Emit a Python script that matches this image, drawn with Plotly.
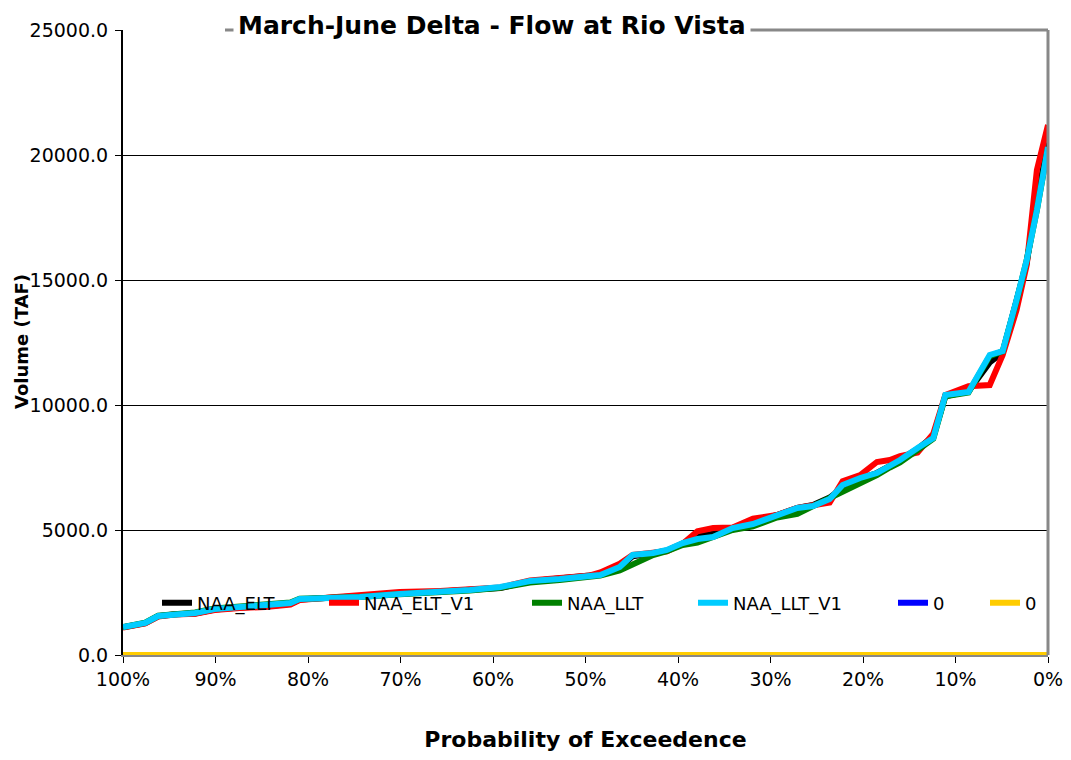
import plotly.graph_objects as go

# Probability of exceedance (%)
prob = [100.0, 97.6, 96.2, 94.4, 92.2, 90.1, 87.4, 84.6, 81.9, 80.9, 77.6, 74.4,
        70.1, 65.7, 62.5, 59.2, 56.0, 52.8, 49.5, 48.4, 46.3, 44.9, 42.7, 41.2,
        39.5, 37.9, 36.2, 34.1, 31.9, 29.3, 27.1, 25.4, 23.6, 22.2, 20.3, 18.5,
        17.1, 16.0, 14.1, 12.4, 11.1, 8.6, 6.3, 4.9, 3.4, 2.3, 1.2, 0.0]

naa_elt = [1110, 1270, 1550, 1630, 1660, 1820, 1900, 1940, 2050, 2220, 2290, 2360,
           2470, 2530, 2600, 2680, 2950, 3040, 3160, 3220, 3500, 3950, 4070, 4180,
           4460, 4750, 4850, 5080, 5260, 5600, 5880, 6000, 6300, 6700, 7050, 7280,
           7560, 7800, 8250, 8750, 10350, 10550, 11700, 12100, 14100, 15700, 18200, 20500]

naa_elt_v1 = [1100, 1260, 1540, 1620, 1650, 1800, 1880, 1920, 2020, 2200, 2300, 2400,
              2520, 2560, 2620, 2700, 2980, 3080, 3180, 3300, 3650, 4000, 4100, 4150,
              4450, 4950, 5080, 5100, 5450, 5600, 5880, 6000, 6100, 6950, 7200, 7720,
              7800, 7950, 8100, 8850, 10400, 10750, 10800, 12000, 13800, 15600, 19400, 21200]

naa_llt = [1120, 1290, 1570, 1650, 1700, 1860, 1940, 1980, 2100, 2250, 2280, 2320,
           2430, 2510, 2580, 2690, 2900, 3000, 3140, 3180, 3380, 3600, 4000, 4150,
           4400, 4500, 4700, 5000, 5150, 5500, 5650, 5950, 6280, 6500, 6900, 7200,
           7500, 7700, 8200, 8650, 10350, 10500, 11950, 12150, 14150, 15800, 17800, 20300]

naa_llt_v1 = [1120, 1280, 1560, 1640, 1680, 1840, 1920, 1960, 2080, 2240, 2280, 2320,
              2440, 2520, 2600, 2720, 2960, 3040, 3160, 3200, 3520, 4000, 4080, 4200,
              4480, 4640, 4720, 5080, 5240, 5600, 5880, 5960, 6240, 6800, 7080, 7280,
              7560, 7800, 8280, 8680, 10400, 10520, 12000, 12160, 14200, 15800, 17800, 20320]

zero_a = [0] * len(prob)
zero_b = [0] * len(prob)

y_ticks = [0, 5000, 10000, 15000, 20000, 25000]
x_ticks = [100, 90, 80, 70, 60, 50, 40, 30, 20, 10, 0]
x_tick_labels = ["100%", "90%", "80%", "70%", "60%", "50%", "40%", "30%", "20%", "10%", "0%"]

series = [
    ("NAA_ELT", naa_elt, "#000000"),
    ("NAA_ELT_V1", naa_elt_v1, "#ff0000"),
    ("NAA_LLT", naa_llt, "#008000"),
    ("NAA_LLT_V1", naa_llt_v1, "#00ccff"),
    ("0", zero_a, "#0000ff"),
    ("0", zero_b, "#ffcc00"),
]

# page has an 8px body margin; figure sized to fit inside the viewport
W, H = 1063, 752
L, R, T, B = 115, 23, 22, 105
plot_w = W - L - R
plot_h = H - T - B

font_family = "DejaVu Sans, Liberation Sans, Arial, sans-serif"

# text-start pixel (page coords) of each legend entry in the reference
legend_text_px = [197, 364, 567, 733, 933, 1025]
legend_names = ["legend", "legend2", "legend3", "legend4", "legend5", "legend6"]

fig = go.Figure()
for (name, vals, color), lg in zip(series, legend_names):
    fig.add_trace(go.Scatter(
        x=prob, y=vals, mode="lines", name=name,
        line=dict(color=color, width=6),
        cliponaxis=False, legend=lg,
    ))

legend_layout = {}
for lg, tx in zip(legend_names, legend_text_px):
    item_start = tx - 8 - 40
    legend_layout[lg] = dict(
        x=(item_start - L) / plot_w, y=(655 - 603) / 625,
        xanchor="left", yanchor="middle", orientation="h",
        bgcolor="rgba(0,0,0,0)", borderwidth=0,
        font=dict(size=18, family=font_family, color="black"),
    )

fig.update_layout(
    width=W, height=H,
    margin=dict(l=L, r=R, t=T, b=B, autoexpand=False),
    paper_bgcolor="white", plot_bgcolor="white",
    font=dict(family=font_family, size=19, color="black"),
    showlegend=True,
    xaxis=dict(
        range=[100, 0], tickvals=x_ticks, ticktext=x_tick_labels,
        showgrid=False, zeroline=False, automargin=False,
        showline=True, linecolor="#888888", linewidth=2,
        ticks="outside", ticklen=6, tickcolor="black", tickwidth=1,
        tickfont=dict(size=19),
        title=dict(text="<b>Probability of Exceedence</b>", font=dict(size=22), standoff=43),
    ),
    yaxis=dict(
        range=[0, 25000], tickvals=y_ticks, tickformat=".1f",
        showgrid=True, gridcolor="black", gridwidth=1,
        zeroline=False, automargin=False,
        showline=True, linecolor="black", linewidth=2,
        ticks="outside", ticklen=6, tickcolor="black", tickwidth=1,
        ticklabelstandoff=3,
        tickfont=dict(size=19),
    ),
    **legend_layout,
)

# y-axis title placed explicitly, left of the tick labels
fig.add_annotation(
    text="<b>Volume (TAF)</b>", textangle=-90,
    xref="paper", yref="paper", x=(21 - 8 - L) / plot_w, y=(H - B - (342 - 8)) / plot_h,
    xanchor="center", yanchor="middle", showarrow=False,
    font=dict(size=18, family=font_family, color="black"),
)

# plot-area border: top (beside title) and right, gray
fig.add_shape(type="line", xref="paper", yref="paper", x0=(225 - 123) / 925, x1=1, y0=1, y1=1,
              line=dict(color="#888888", width=3), layer="above")
fig.add_shape(type="line", xref="paper", yref="paper", x0=1, x1=1, y0=0, y1=1,
              line=dict(color="#888888", width=3), layer="above")

fig.add_annotation(
    text="<b>March-June Delta - Flow at Rio Vista</b>",
    xref="paper", yref="paper", x=(492 - 123) / 925, y=1, xanchor="center", yanchor="middle",
    yshift=5,
    showarrow=False, font=dict(size=25, family=font_family, color="black"),
    bgcolor="white", borderpad=4,
)

fig.write_html("out.html")
